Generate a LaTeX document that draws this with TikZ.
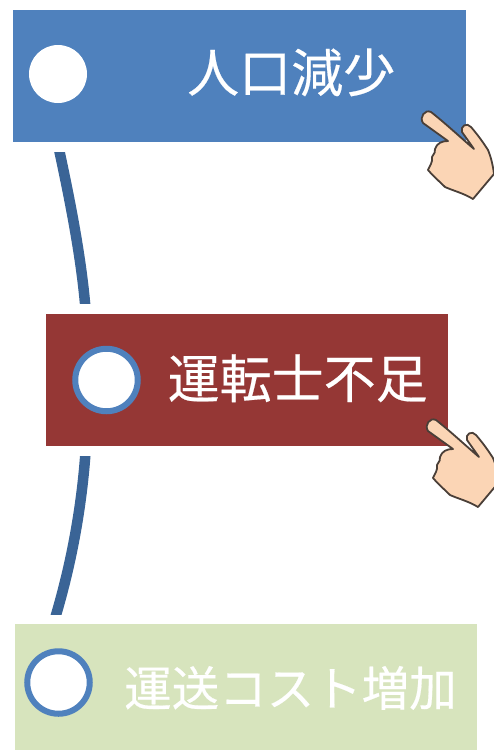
\documentclass[tikz,border=0pt]{standalone}
\usepackage{fontspec}
\newfontfamily\cjk{Noto Sans CJK JP}[FakeBold=0.35]
\definecolor{bluebox}{HTML}{4F81BD}
\definecolor{redbox}{HTML}{953735}
\definecolor{greenbox}{HTML}{D7E4BD}
\definecolor{linkblue}{HTML}{3A6496}
\definecolor{skin}{HTML}{FBD5B5}
\definecolor{handline}{HTML}{4A3F38}
\tikzset{
  box/.style={draw=none,inner sep=0pt,minimum width=#1,anchor=north west},
  dotplain/.style={circle,fill=white,inner sep=0pt,minimum size=58pt,draw=none},
  dotring/.style={circle,fill=white,draw=bluebox,line width=6pt,inner sep=0pt,minimum size=62.5pt},
  label/.style={text=white,inner sep=0pt,anchor=base west,font=\cjk\fontsize{#1}{#1}\selectfont},
  link/.style={draw=linkblue,line width=10.5pt},
  pics/hand/.style={code={
    \draw[fill=skin,draw=handline,line width=1.8pt,line join=round]
      (23,33) .. controls (19,27) and (25,19) .. (31,22)
      .. controls (45,33) and (60,47) .. (74,59)
      -- (62,42) .. controls (60,36) and (67,32) .. (71,37)
      .. controls (77,44) and (83,52) .. (88,60)
      .. controls (91,67) and (93,76) .. (94,84)
      -- (73,109)
      .. controls (63,103) and (54,101) .. (45,97)
      .. controls (39,91) and (33,86) .. (28,80)
      .. controls (30,75) and (33,72) .. (32,67)
      .. controls (34,63) and (36,62) .. (35,59)
      .. controls (37,53) and (42,51) .. (48,51)
      -- cycle;
  }}
}
\begin{document}
\begin{tikzpicture}[x=1pt,y=-1pt]
\useasboundingbox (0,0) rectangle (494,750);
\fill[white] (0,0) rectangle (494,750);
\coordinate (l1a) at (57,140);
\coordinate (l1b) at (86,315);
\coordinate (l2a) at (86,445);
\coordinate (l2b) at (53,625);
\begin{scope}
\clip (0,152) rectangle (200,303);
\draw[link] (l1a) .. controls (70,200) and (82,260) .. (l1b);
\end{scope}
\begin{scope}
\clip (0,456) rectangle (200,614);
\draw[link] (l2a) .. controls (82,510) and (70,570) .. (l2b);
\end{scope}
\node[box=453pt,minimum height=132pt,fill=bluebox] (b1) at (13,10) {};
\node[box=402pt,minimum height=132pt,fill=redbox] (b2) at (46,314) {};
\node[box=462pt,minimum height=126pt,fill=greenbox] (b3) at (15,624) {};
\node[dotplain] (c1) at (58,74) {};
\node[dotring] (c2) at (106.5,380) {};
\node[dotring] (c3) at (58.5,682.5) {};
\node[label=52] (t1) at (187,92) {人口減少};
\node[label=52] (t2) at (167.5,398) {運転士不足};
\node[label=47.5] (t3) at (124,706) {運送コスト増加};
\begin{scope}
\clip (0,0) rectangle (494,750);
\pic at (400,90) {hand};
\pic at (405,398) {hand};
\end{scope}
\end{tikzpicture}
\end{document}
